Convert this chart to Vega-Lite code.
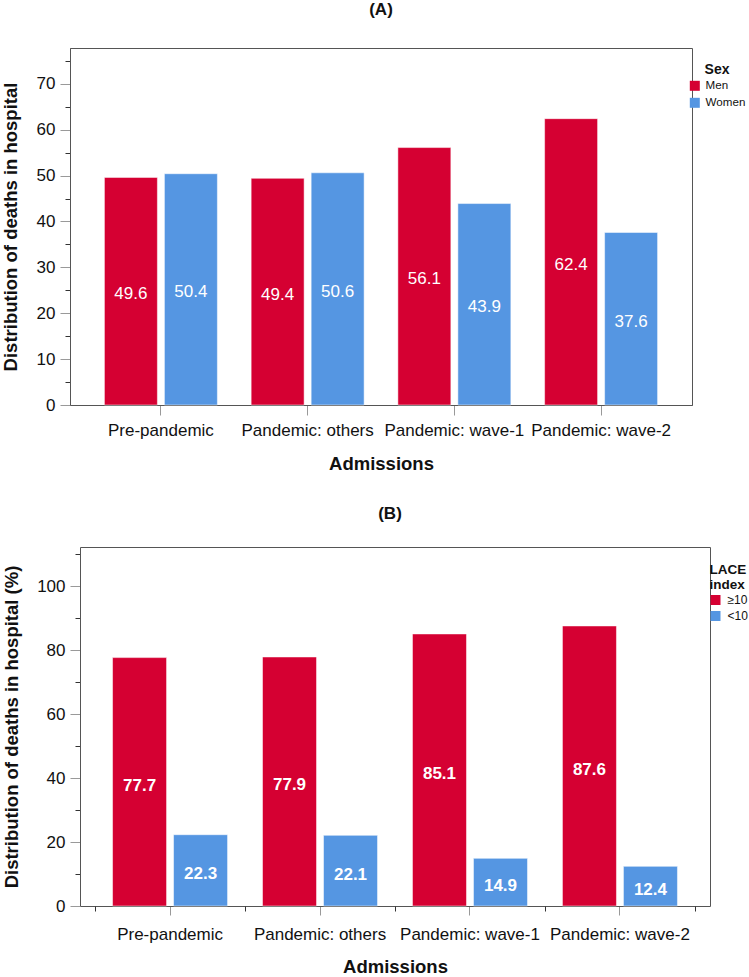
{
  "$schema": "https://vega.github.io/schema/vega-lite/v6.json",
  "padding": {"left": 0, "top": 0, "right": 0, "bottom": 0},
  "background": "white",
  "config": {
    "font": "Liberation Sans",
    "view": {"stroke": "#555", "strokeWidth": 1},
    "axis": {"labelFont": "Liberation Sans", "titleFont": "Liberation Sans", "labelColor": "#111", "titleColor": "#111", "grid": false, "domainColor": "#555"},
    "legend": {"labelFont": "Liberation Sans", "titleFont": "Liberation Sans", "labelColor": "#111", "titleColor": "#111"},
    "title": {"font": "Liberation Sans", "color": "#111"}
  },
  "spacing": 31,
  "resolve": {"scale": {"color": "independent"}},
  "vconcat": [
    {
      "title": {"text": "(A)", "fontSize": 17, "fontWeight": "bold", "offset": 29, "anchor": "middle"},
      "width": 622,
      "height": 357,
      "data": {"values": [
        {"admission": "Pre-pandemic", "group": "Men", "value": 49.6},
        {"admission": "Pre-pandemic", "group": "Women", "value": 50.4},
        {"admission": "Pandemic: others", "group": "Men", "value": 49.4},
        {"admission": "Pandemic: others", "group": "Women", "value": 50.6},
        {"admission": "Pandemic: wave-1", "group": "Men", "value": 56.1},
        {"admission": "Pandemic: wave-1", "group": "Women", "value": 43.9},
        {"admission": "Pandemic: wave-2", "group": "Men", "value": 62.4},
        {"admission": "Pandemic: wave-2", "group": "Women", "value": 37.6}
      ]},
      "encoding": {
        "x": {"field": "admission", "type": "nominal", "sort": null,
          "scale": {"type": "band", "paddingInner": 0.233, "paddingOuter": 0.236},
          "axis": {"title": "Admissions", "labelAngle": 0, "labelFontSize": 17, "tickSize": 10, "tickColor": "#999", "labelPadding": 7, "titleFontSize": 18.5, "titleFontWeight": "bold", "titlePadding": 16}}
      },
      "layer": [
        {
          "transform": [{"filter": "datum.group === 'Men'"}],
          "mark": {"type": "bar", "width": {"band": 0.4707}, "xOffset": -30, "stroke": "white", "strokeWidth": 1, "strokeOpacity": 0.5},
          "encoding": {
            "y": {"field": "value", "type": "quantitative",
              "scale": {"domain": [0, 77.8], "nice": false},
              "axis": {"title": "Distribution of deaths in hospital",
                "values": [0, 5, 10, 15, 20, 25, 30, 35, 40, 45, 50, 55, 60, 65, 70, 75],
                "labelExpr": "datum.value % 10 === 0 ? datum.label : ''",
                "labelOverlap": false,
                "tickSize": {"condition": {"test": "datum.value % 10 === 0", "value": 10}, "value": 5},
                "tickColor": {"condition": {"test": "datum.value % 10 === 0", "value": "#999"}, "value": "#333"},
                "labelFontSize": 17, "labelPadding": 5,
                "titleFontSize": 18.5, "titleFontWeight": "bold", "titlePadding": 16}},
            "color": {"field": "group", "type": "nominal",
              "scale": {"domain": ["Men", "Women"], "range": ["#D50032", "#5596E2"]},
              "legend": {"title": "Sex", "orient": "right", "offset": -18, "padding": 15,
                "symbolType": "square", "symbolSize": 100, "symbolStrokeWidth": 0,
                "titleFontSize": 14, "titleFontWeight": "bold", "titleAnchor": "middle", "titlePadding": 3,
                "labelFontSize": 11.6, "labelOffset": 5, "rowPadding": 4}}
          }
        },
        {
          "transform": [{"filter": "datum.group === 'Women'"}],
          "mark": {"type": "bar", "width": {"band": 0.4707}, "xOffset": 30, "stroke": "white", "strokeWidth": 1, "strokeOpacity": 0.5},
          "encoding": {
            "y": {"field": "value", "type": "quantitative",
              "scale": {"domain": [0, 77.8], "nice": false}, "axis": null},
            "color": {"field": "group", "type": "nominal",
              "scale": {"domain": ["Men", "Women"], "range": ["#D50032", "#5596E2"]},
              "legend": {"title": "Sex", "orient": "right", "offset": -18, "padding": 15,
                "symbolType": "square", "symbolSize": 100, "symbolStrokeWidth": 0,
                "titleFontSize": 14, "titleFontWeight": "bold", "titleAnchor": "middle", "titlePadding": 3,
                "labelFontSize": 11.6, "labelOffset": 5, "rowPadding": 4}}
          }
        },
        {
          "transform": [{"filter": "datum.group === 'Men'"}],
          "mark": {"type": "text", "color": "white", "fontSize": 17, "baseline": "middle", "dy": 3, "xOffset": -30},
          "encoding": {
            "y": {"field": "value", "type": "quantitative",
              "scale": {"domain": [0, 155.6], "nice": false}, "axis": null},
            "text": {"field": "value", "type": "quantitative", "format": ".1f"}
          }
        },
        {
          "transform": [{"filter": "datum.group === 'Women'"}],
          "mark": {"type": "text", "color": "white", "fontSize": 17, "baseline": "middle", "dy": 3, "xOffset": 30},
          "encoding": {
            "y": {"field": "value", "type": "quantitative",
              "scale": {"domain": [0, 155.6], "nice": false}, "axis": null},
            "text": {"field": "value", "type": "quantitative", "format": ".1f"}
          }
        }
      ],
      "resolve": {"scale": {"y": "independent"}, "axis": {"y": "independent"}}
    },
    {
      "title": {"text": "(B)", "fontSize": 17, "fontWeight": "bold", "offset": 22.5, "anchor": "middle"},
      "width": 640,
      "height": 359,
      "view": {"stroke": null},
      "data": {"values": [
        {"admission": "Pre-pandemic", "group": "≥10", "value": 77.7},
        {"admission": "Pre-pandemic", "group": "<10", "value": 22.3},
        {"admission": "Pandemic: others", "group": "≥10", "value": 77.9},
        {"admission": "Pandemic: others", "group": "<10", "value": 22.1},
        {"admission": "Pandemic: wave-1", "group": "≥10", "value": 85.1},
        {"admission": "Pandemic: wave-1", "group": "<10", "value": 14.9},
        {"admission": "Pandemic: wave-2", "group": "≥10", "value": 87.6},
        {"admission": "Pandemic: wave-2", "group": "<10", "value": 12.4}
      ]},
      "layer": [
        {
          "transform": [{"filter": "datum.group === '≥10'"}],
          "mark": {"type": "bar", "width": {"band": 0.4696}, "xOffset": -30.5, "stroke": "white", "strokeWidth": 1, "strokeOpacity": 0.5},
          "encoding": {
            "x": {"field": "admission", "type": "nominal", "sort": null,
              "scale": {"type": "band", "paddingInner": 0.233, "paddingOuter": 0.217, "range": [10, 640]},
              "axis": {"title": "Admissions", "labelAngle": 0, "labelFontSize": 17, "tickSize": 9, "tickColor": "#999", "labelPadding": 11, "titleFontSize": 18.5, "titleFontWeight": "bold", "titlePadding": 15, "orient": "bottom"}},
            "y": {"field": "value", "type": "quantitative",
              "scale": {"domain": [0, 112.3], "nice": false},
              "axis": {"title": "Distribution of deaths in hospital (%)", "offset": -10,
                "values": [0, 10, 20, 30, 40, 50, 60, 70, 80, 90, 100, 110],
                "labelExpr": "datum.value % 20 === 0 ? datum.label : ''",
                "labelOverlap": false,
                "tickSize": {"condition": {"test": "datum.value % 20 === 0", "value": 10}, "value": 5},
                "tickColor": {"condition": {"test": "datum.value % 20 === 0", "value": "#999"}, "value": "#333"},
                "labelFontSize": 17, "labelPadding": 5,
                "titleFontSize": 18.5, "titleFontWeight": "bold", "titlePadding": 15}},
            "color": {"field": "group", "type": "nominal",
              "scale": {"domain": ["≥10", "<10"], "range": ["#D50032", "#5596E2"]},
              "legend": {"title": ["LACE", "index"], "orient": "right", "offset": -16, "padding": 15.5,
                "symbolType": "square", "symbolSize": 100, "symbolStrokeWidth": 0,
                "titleFontSize": 13.5, "titleFontWeight": "bold", "titleAnchor": "start", "titlePadding": 3, "titleLineHeight": 15,
                "labelFontSize": 12, "labelOffset": 6, "rowPadding": 4}}
          }
        },
        {
          "transform": [{"filter": "datum.group === '<10'"}],
          "mark": {"type": "bar", "width": {"band": 0.4696}, "xOffset": 30.5, "stroke": "white", "strokeWidth": 1, "strokeOpacity": 0.5},
          "encoding": {
            "x": {"field": "admission", "type": "nominal", "sort": null,
              "scale": {"type": "band", "paddingInner": 0.233, "paddingOuter": 0.217, "range": [10, 640]},
              "axis": {"orient": "bottom", "bandPosition": 0, "tickOffset": -17.5, "values": ["Pre-pandemic"], "labels": false, "domain": false, "title": null, "tickSize": 5, "tickColor": "#333"}},
            "y": {"field": "value", "type": "quantitative",
              "scale": {"domain": [0, 112.3], "nice": false}, "axis": null},
            "color": {"field": "group", "type": "nominal",
              "scale": {"domain": ["≥10", "<10"], "range": ["#D50032", "#5596E2"]},
              "legend": {"title": ["LACE", "index"], "orient": "right", "offset": -16, "padding": 15.5,
                "symbolType": "square", "symbolSize": 100, "symbolStrokeWidth": 0,
                "titleFontSize": 13.5, "titleFontWeight": "bold", "titleAnchor": "start", "titlePadding": 3, "titleLineHeight": 15,
                "labelFontSize": 12, "labelOffset": 6, "rowPadding": 4}}
          }
        },
        {
          "transform": [{"filter": "datum.group === '≥10'"}],
          "mark": {"type": "text", "color": "white", "fontSize": 17, "fontWeight": "bold", "baseline": "middle", "dy": 4, "xOffset": -30.5},
          "encoding": {
            "x": {"field": "admission", "type": "nominal", "sort": null,
              "scale": {"type": "band", "paddingInner": 0.233, "paddingOuter": 0.217, "range": [10, 640]},
              "axis": {"orient": "bottom", "bandPosition": 1, "tickOffset": 17.5, "labels": false, "domain": false, "title": null, "tickSize": 5, "tickColor": "#333"}},
            "y": {"field": "value", "type": "quantitative",
              "scale": {"domain": [0, 224.6], "nice": false},
              "axis": {"orient": "right", "domain": true, "ticks": false, "labels": false, "title": null, "grid": false}},
            "text": {"field": "value", "type": "quantitative", "format": ".1f"}
          }
        },
        {
          "transform": [{"filter": "datum.group === '<10'"}],
          "mark": {"type": "text", "color": "white", "fontSize": 17, "fontWeight": "bold", "baseline": "middle", "dy": 4, "xOffset": 30.5},
          "encoding": {
            "x": {"field": "admission", "type": "nominal", "sort": null,
              "scale": {"type": "band", "paddingInner": 0.233, "paddingOuter": 0.217, "range": [10, 640]},
              "axis": {"orient": "top", "domain": true, "ticks": false, "labels": false, "title": null}},
            "y": {"field": "value", "type": "quantitative",
              "scale": {"domain": [0, 224.6], "nice": false}, "axis": null},
            "text": {"field": "value", "type": "quantitative", "format": ".1f"}
          }
        }
      ],
      "resolve": {"scale": {"y": "independent"}, "axis": {"x": "independent", "y": "independent"}}
    }
  ]
}
